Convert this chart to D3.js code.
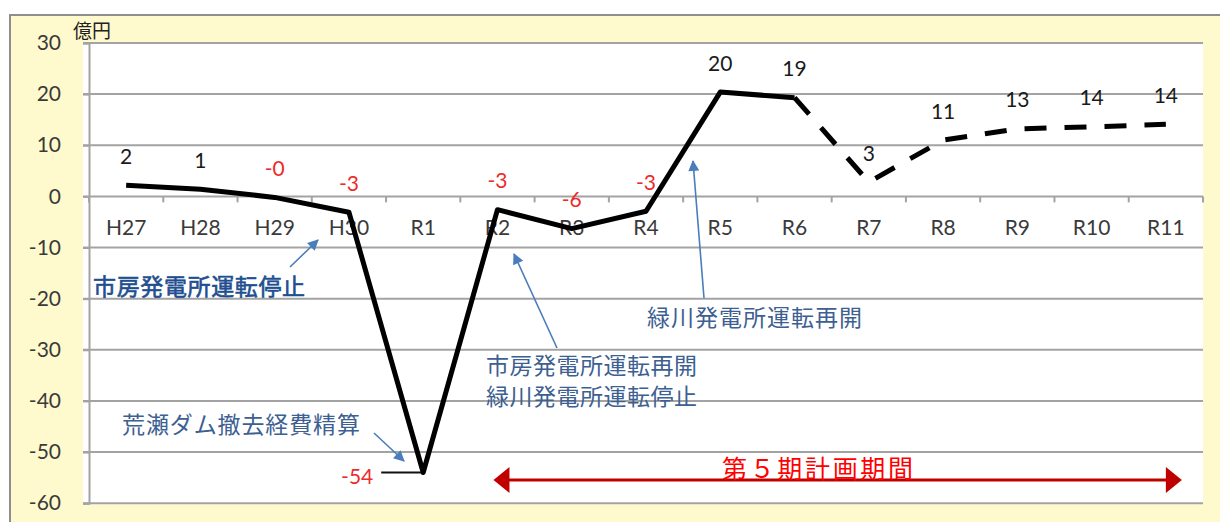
<!DOCTYPE html>
<html>
<head>
<meta charset="utf-8">
<script src="https://cdn.jsdelivr.net/npm/d3@7"></script>
<style>
  html, body { margin: 0; padding: 0; background: #ffffff; }
  svg { display: block; }
</style>
</head>
<body>
<svg id="chart" width="1220" height="522"></svg>
<script>
// ---- data ----
const categories = ["H27","H28","H29","H30","R1","R2","R3","R4","R5","R6","R7","R8","R9","R10","R11"];
const values = [2.2, 1.4, -0.2, -3.1, -54, -2.6, -6.3, -2.9, 20.4, 19.3, 2.8, 11.0, 13.2, 13.6, 14.1];
const lastActual = "R6";            // solid up to here, dashed (plan) after
const yTicks = [30, 20, 10, 0, -10, -20, -30, -40, -50, -60];
const unitLabel = "億円";
const noteStop = "市房発電所運転停止";
const noteDam = "荒瀬ダム撤去経費精算";
const noteR2 = ["市房発電所運転再開", "緑川発電所運転停止"];
const noteR5 = "緑川発電所運転再開";
const periodLabel = "第５期計画期間";
const periodStart = "R2", periodEnd = "R11";

(function () {
// ---- layout ----
const svg = d3.select("#chart");
const pLeft = 89, pRight = 1203, pTop = 42.97, pBottom = 503.2;

const x = d3.scaleBand().domain(categories).range([pLeft, pRight]).paddingInner(0).paddingOuter(0);
const y = d3.scaleLinear().domain([-60, 30]).range([pBottom, pTop]);
const cx = c => x(c) + x.bandwidth() / 2;

// outer frame
svg.append("rect").attr("x", 10).attr("y", 15).attr("width", 1230).attr("height", 530)
  .attr("fill", "#fffacd").attr("stroke", "#8e8e8e").attr("stroke-width", 2);

// plot area
svg.append("rect").attr("x", pLeft - 6).attr("y", pTop).attr("width", pRight - pLeft + 6).attr("height", pBottom - pTop + 1)
  .attr("fill", "#ffffff");

// gridlines
svg.append("g").selectAll("line").data(yTicks).join("line")
  .attr("x1", pLeft - 6).attr("x2", pRight)
  .attr("y1", d => y(d)).attr("y2", d => y(d))
  .attr("stroke", "#a3a3a3").attr("stroke-width", 2);

// y axis
const yAxis = svg.append("g").attr("transform", `translate(${pLeft},0)`)
  .call(d3.axisLeft(y).tickValues(yTicks).tickSize(6).tickPadding(22).tickFormat(d => String(d)));
yAxis.select(".domain").attr("stroke", "#a3a3a3").attr("stroke-width", 2);
yAxis.selectAll(".tick line").attr("stroke", "#a3a3a3").attr("stroke-width", 2);
yAxis.selectAll(".tick text").attr("font-family", "Lato, 'Open Sans', sans-serif")
  .attr("font-size", 21).attr("fill", "#3a3a3a");

// x axis at zero: boundary ticks + labels
const x0 = y(0);
const xAxis = svg.append("g").attr("transform", `translate(0,${x0})`)
  .call(d3.axisBottom(x).tickSize(0).tickPadding(24));
xAxis.select(".domain").remove();
xAxis.selectAll(".tick text").attr("font-family", "Lato, 'Open Sans', sans-serif")
  .attr("font-size", 21).attr("fill", "#3a3a3a");
svg.append("g").selectAll("line").data(categories.concat(["__end"])).join("line")
  .attr("x1", (d, i) => i < categories.length ? x(d) : pRight)
  .attr("x2", (d, i) => i < categories.length ? x(d) : pRight)
  .attr("y1", x0).attr("y2", x0 + 6)
  .attr("stroke", "#a3a3a3").attr("stroke-width", 2);

// unit label
svg.append("text").attr("x", 73).attr("y", 29).attr("dominant-baseline", "central")
  .attr("font-family", "'Noto Sans CJK JP', sans-serif").attr("font-size", 19).attr("fill", "#222")
  .text(unitLabel);

// ---- line ----
const pts = categories.map((c, i) => ({ c, v: values[i] }));
const splitIdx = categories.indexOf(lastActual);
const line = d3.line().x(d => cx(d.c)).y(d => y(d.v));

// leader line for R1 label
const r1 = pts[4];
svg.append("line").attr("x1", cx(r1.c) - 42).attr("x2", cx(r1.c)).attr("y1", y(r1.v)).attr("y2", y(r1.v))
  .attr("stroke", "#111").attr("stroke-width", 2);

svg.append("path").datum(pts.slice(0, splitIdx + 1)).attr("d", line)
  .attr("fill", "none").attr("stroke", "#000").attr("stroke-width", 5)
  .attr("stroke-linejoin", "round");
svg.append("path").datum(pts.slice(splitIdx)).attr("d", line)
  .attr("fill", "none").attr("stroke", "#000").attr("stroke-width", 5)
  .attr("stroke-dasharray", "22,18").attr("stroke-linejoin", "round");

// data labels
const fmt = v => (v < 0 ? "-" + Math.round(-v) : String(Math.round(v)));
svg.append("g").selectAll("text").data(pts).join("text")
  .attr("x", d => d.c === "R1" ? cx(d.c) - 66 : cx(d.c))
  .attr("y", d => d.c === "R1" ? y(d.v) + 3 : y(d.v) - 30)
  .attr("text-anchor", "middle").attr("dominant-baseline", "central")
  .attr("font-family", "Lato, 'Open Sans', sans-serif").attr("font-size", 21)
  .attr("fill", d => d.v < 0 ? "#ee2a2a" : "#1a1a1a")
  .text(d => fmt(d.v));

// ---- annotations ----
const defs = svg.append("defs");
defs.append("marker").attr("id", "ah").attr("viewBox", "0 0 10 10")
  .attr("refX", 9).attr("refY", 5).attr("markerWidth", 13).attr("markerHeight", 11)
  .attr("markerUnits", "userSpaceOnUse").attr("orient", "auto")
  .append("path").attr("d", "M0,0 L10,5 L0,10 Z").attr("fill", "#4a7dbb");

const arrows = [
  [[290, 267], [318, 240]],
  [[374, 433], [404, 461]],
  [[557, 348], [514, 254]],
  [[704, 298], [693, 161]]
];
svg.append("g").selectAll("line").data(arrows).join("line")
  .attr("x1", d => d[0][0]).attr("y1", d => d[0][1])
  .attr("x2", d => d[1][0]).attr("y2", d => d[1][1])
  .attr("stroke", "#4a7dbb").attr("stroke-width", 1.6).attr("marker-end", "url(#ah)");

function note(txt, xs, xe, yc, opts = {}) {
  const t = svg.append("text").attr("x", xs).attr("y", yc).attr("dominant-baseline", "central")
    .attr("font-family", "'Noto Sans CJK JP', sans-serif").attr("font-size", opts.size || 23)
    .attr("fill", opts.color || "#3d5f92")
    .attr("textLength", xe - xs).attr("lengthAdjust", "spacing")
    .text(txt);
  if (opts.bold) t.attr("stroke", opts.color).attr("stroke-width", 0.6);
  return t;
}
note(noteStop, 93, 305, 285, { color: "#1f4f8f", bold: true });
note(noteDam, 122, 360, 423);
note(noteR2[0], 486, 697, 364);
note(noteR2[1], 486, 697, 395);
note(noteR5, 647, 862, 316);

// ---- plan period double arrow ----
const pStart = cx(periodStart) - 4, pEnd = cx(periodEnd) + 16, pY = 480;
svg.append("line").attr("x1", pStart + 10).attr("x2", pEnd - 10).attr("y1", pY).attr("y2", pY)
  .attr("stroke", "#c00000").attr("stroke-width", 3);
svg.append("path").attr("d", `M${pStart},${pY} L${pStart + 16},${pY - 13} L${pStart + 16},${pY + 13} Z`).attr("fill", "#c00000");
svg.append("path").attr("d", `M${pEnd},${pY} L${pEnd - 16},${pY - 13} L${pEnd - 16},${pY + 13} Z`).attr("fill", "#c00000");
svg.append("text").attr("x", 722).attr("y", 467).attr("dominant-baseline", "central")
  .attr("font-family", "'Noto Sans CJK JP', sans-serif").attr("font-size", 25).attr("fill", "#ff0000")
  .attr("textLength", 191).attr("lengthAdjust", "spacing")
  .text(periodLabel);
})();
</script>
</body>
</html>
